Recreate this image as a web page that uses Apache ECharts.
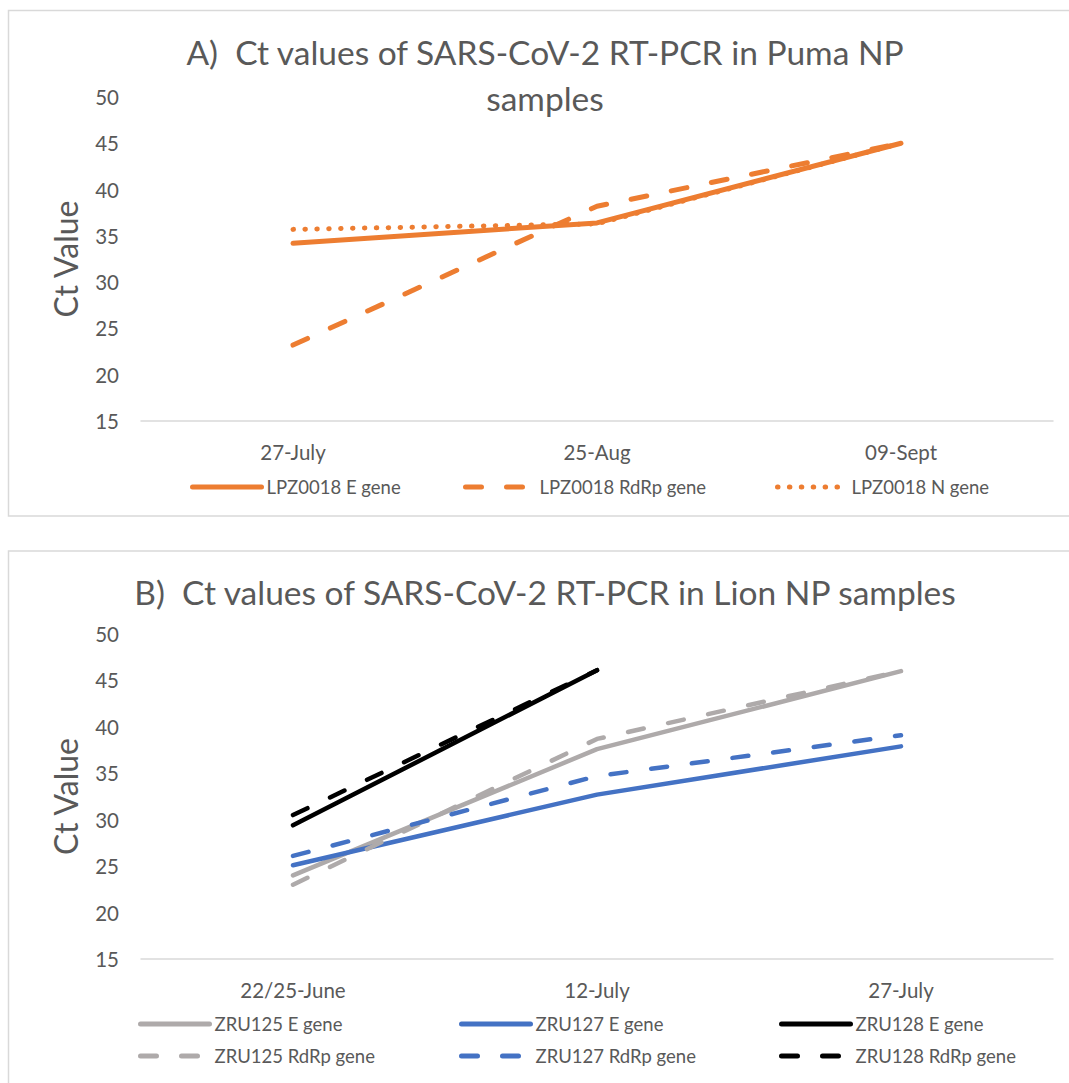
<!DOCTYPE html>
<html>
<head>
<meta charset="utf-8">
<script src="https://cdn.jsdelivr.net/npm/echarts@6/dist/echarts.min.js"></script>
<style>
  html, body { margin: 0; padding: 0; background: #fff; }
  #chart { width: 1069px; height: 1083px; }
</style>
</head>
<body>
<div id="chart"></div>
<script>
// ---------- DATA ----------
const titleA = 'A)  Ct values of SARS-CoV-2 RT-PCR in Puma NP\nsamples';
const titleB = 'B)  Ct values of SARS-CoV-2 RT-PCR in Lion NP samples';
const yName = 'Ct Value';
const yMin = 15, yMax = 50, yStep = 5;

const catsA = ['27-July', '25-Aug', '09-Sept'];
const namesA = ['LPZ0018 E gene', 'LPZ0018 RdRp gene', 'LPZ0018 N gene'];
const lpzE    = [34.2, 36.4, 45.0];
const lpzRdRp = [23.2, 38.2, 45.0];
const lpzN    = [35.7, 36.3, 45.0];

const catsB = ['22/25-June', '12-July', '27-July'];
const namesB = ['ZRU125 E gene', 'ZRU127 E gene', 'ZRU128 E gene',
                'ZRU125 RdRp gene', 'ZRU127 RdRp gene', 'ZRU128 RdRp gene'];
const zru125E = [24.0, 37.6, 46.0];
const zru127E = [25.1, 32.7, 37.9];
const zru128E = [29.4, 46.1, null];
const zru125R = [23.0, 38.7, 46.0];
const zru127R = [26.1, 34.7, 39.1];
const zru128R = [30.5, 46.1, null];

// ---------- STYLE ----------
const FONT = 'Lato';
const TXT = '#595959';
const ORANGE = '#ED7D31', GRAY = '#AEAAAA', BLUE = '#4472C4', BLACK = '#000000';
const DASH = [16, 25];
const DOT = [0.5, 11.4];

function mkLine(name, data, color, type, width, xi, yi, z) {
  return {
    name: name, type: 'line', data: data,
    xAxisIndex: xi, yAxisIndex: yi,
    symbol: 'none', smooth: false, connectNulls: false,
    z: z || 2,
    lineStyle: { color: color, width: width, type: type, cap: 'round', join: 'round' },
    itemStyle: { color: color },
    emphasis: { disabled: true },
    animation: false
  };
}

function mkLegend(name, left, cy, width) {
  return {
    data: [name], left: left, top: cy - 10, padding: 0,
    itemWidth: 69, itemHeight: 14, itemGap: 0,
    selectedMode: false,
    textStyle: { fontFamily: FONT, fontSize: 18.5, color: TXT, lineHeight: 20 },
    itemStyle: { opacity: 0 },
    lineStyle: { width: width }
  };
}

function mkX(cats, gi) {
  return {
    type: 'category', data: cats, gridIndex: gi, boundaryGap: true,
    axisLine: { show: true, lineStyle: { color: '#D9D9D9', width: 1.5 } },
    axisTick: { show: false },
    axisLabel: { color: TXT, fontFamily: FONT, fontSize: 20.5, margin: 20 },
    splitLine: { show: false }
  };
}
function mkY(gi) {
  return {
    type: 'value', gridIndex: gi, min: yMin, max: yMax, interval: yStep,
    name: yName, nameLocation: 'middle', nameGap: 60,
    nameTextStyle: { color: TXT, fontFamily: FONT, fontSize: 32 },
    axisLine: { show: false }, axisTick: { show: false },
    axisLabel: { color: TXT, fontFamily: FONT, fontSize: 20.5, margin: 22 },
    splitLine: { show: false }
  };
}

const chart = echarts.init(document.getElementById('chart'), null, { renderer: 'svg' });
chart.setOption({
  backgroundColor: '#ffffff',
  animation: false,
  title: [
    { text: titleA, left: 545, textAlign: 'center', top: 29, padding: 0,
      textStyle: { fontFamily: FONT, fontSize: 33.5, fontWeight: 'normal', color: TXT, lineHeight: 46 } },
    { text: titleB, left: 545, textAlign: 'center', top: 569, padding: 0,
      textStyle: { fontFamily: FONT, fontSize: 33.5, fontWeight: 'normal', color: TXT, lineHeight: 46 } }
  ],
  graphic: [
    { type: 'rect', shape: { x: 8.5, y: 10.5, width: 1075, height: 505.5 }, silent: true,
      style: { fill: 'none', stroke: '#D9D9D9', lineWidth: 1.5 }, z: -1 },
    { type: 'rect', shape: { x: 8.5, y: 551, width: 1075, height: 600 }, silent: true,
      style: { fill: 'none', stroke: '#D9D9D9', lineWidth: 1.5 }, z: -1 }
  ],
  grid: [
    { left: 141, width: 912, top: 97, height: 324 },
    { left: 141, width: 912, top: 634, height: 325 }
  ],
  xAxis: [mkX(catsA, 0), mkX(catsB, 1)],
  yAxis: [mkY(0), mkY(1)],
  legend: [
    mkLegend(namesA[0], 190, 487, 5),
    mkLegend(namesA[1], 463, 487, 5),
    mkLegend(namesA[2], 775, 487, 5),
    mkLegend(namesB[0], 138, 1024, 5),
    mkLegend(namesB[1], 459, 1024, 5),
    mkLegend(namesB[2], 779, 1024, 5),
    mkLegend(namesB[3], 138, 1056, 5),
    mkLegend(namesB[4], 459, 1056, 5),
    mkLegend(namesB[5], 779, 1056, 5)
  ],
  series: [
    mkLine(namesA[0], lpzE, ORANGE, 'solid', 5, 0, 0, 3),
    mkLine(namesA[1], lpzRdRp, ORANGE, DASH, 5, 0, 0, 2),
    mkLine(namesA[2], lpzN, ORANGE, DOT, 5, 0, 0, 2),
    mkLine(namesB[0], zru125E, GRAY, 'solid', 4.5, 1, 1, 2),
    mkLine(namesB[1], zru127E, BLUE, 'solid', 4.5, 1, 1, 2),
    mkLine(namesB[2], zru128E, BLACK, 'solid', 4.5, 1, 1, 2),
    mkLine(namesB[3], zru125R, GRAY, DASH, 4.5, 1, 1, 3),
    mkLine(namesB[4], zru127R, BLUE, DASH, 4.5, 1, 1, 3),
    mkLine(namesB[5], zru128R, BLACK, DASH, 4.5, 1, 1, 3)
  ]
});
</script>
</body>
</html>
